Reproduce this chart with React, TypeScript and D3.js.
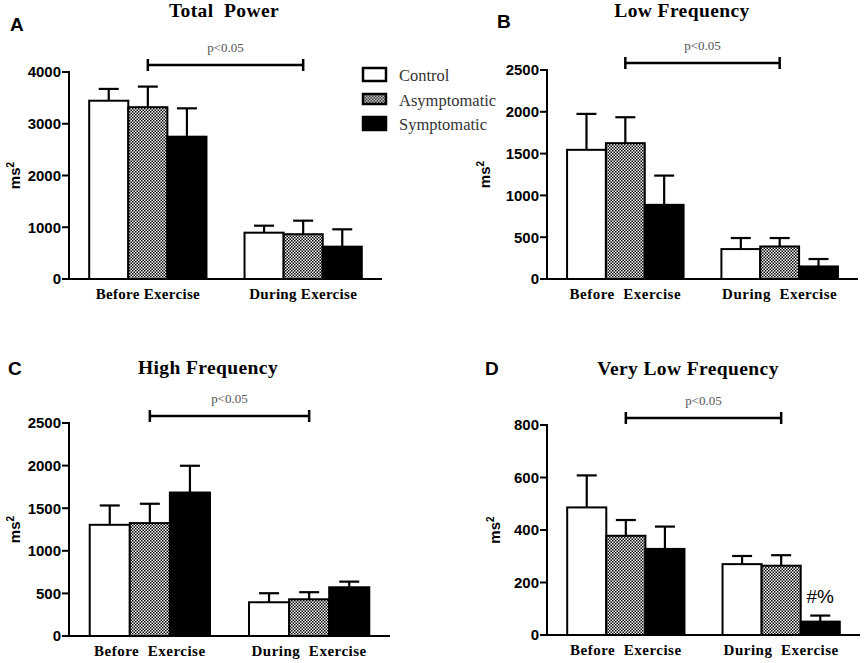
import React from 'react';
import * as d3 from 'd3';

// groups and phases
const groups = ['Control', 'Asymptomatic', 'Symptomatic'];
const phases = ['Before', 'During'];

// Total power (ms^2): mean and SEM per group
const tpBefore = [3445, 3320, 2750];
const tpBeforeErr = [228, 398, 548];
const tpDuring = [895, 865, 625];
const tpDuringErr = [135, 262, 335];

// Low frequency
const lfBefore = [1545, 1625, 887];
const lfBeforeErr = [430, 310, 350];
const lfDuring = [358, 389, 150];
const lfDuringErr = [132, 101, 89];

// High frequency
const hfBefore = [1305, 1325, 1684];
const hfBeforeErr = [227, 227, 314];
const hfDuring = [396, 431, 572];
const hfDuringErr = [106, 83, 66];

// Very low frequency
const vlfBefore = [486, 378, 328];
const vlfBeforeErr = [122, 60, 85];
const vlfDuring = [270, 264, 51];
const vlfDuringErr = [31, 40, 23];

const phaseLabelsA = ['Before Exercise', 'During Exercise'];
const phaseLabels = ['Before  Exercise', 'During  Exercise'];

const SANS = '"Liberation Sans", Arial, sans-serif';
const SERIF = '"Liberation Serif", "Times New Roman", serif';

interface PanelProps {
  letter: string;
  letterX: number;
  letterY: number;
  title: string;
  titleX: number;
  titleY: number;
  left: number;
  right: number;
  top: number;
  bottom: number;
  max: number;
  step: number;
  ylabelX: number;
  before: number[];
  beforeErr: number[];
  during: number[];
  duringErr: number[];
  labels: string[];
  labelSpacing?: number;
  note?: string;
}

const fills = ['#fff', 'url(#checker)', '#000'];

const Panel: React.FC<PanelProps> = (p) => {
  const y = d3.scaleLinear().domain([0, p.max]).range([p.bottom, p.top]);
  const x0 = d3.scaleBand<string>().domain(phases).range([p.left, p.right]).paddingInner(0.245).paddingOuter(0.13);
  const x1 = d3.scaleBand<string>().domain(groups).range([0, x0.bandwidth()]);
  const ticks = d3.range(0, p.max + 1, p.step);
  const means = [p.before, p.during];
  const errs = [p.beforeErr, p.duringErr];

  // bracket between asymptomatic bars
  const bx1 = (x0('Before') || 0) + (x1('Asymptomatic') || 0) + x1.bandwidth() / 2;
  const bx2 = (x0('During') || 0) + (x1('Asymptomatic') || 0) + x1.bandwidth() / 2;
  const by = p.top - 7;

  return (
    <g>
      <text x={p.letterX} y={p.letterY} fontFamily={SANS} fontWeight="bold" fontSize={19}>{p.letter}</text>
      <text x={p.titleX} y={p.titleY} textAnchor="middle" fontFamily={SERIF} fontWeight="bold" fontSize={19.5}
        letterSpacing={0.4} style={{ whiteSpace: 'pre' }}>{p.title}</text>

      {/* significance bracket */}
      <g stroke="#000" strokeWidth={2.5}>
        <line x1={bx1} x2={bx2} y1={by} y2={by} />
        <line x1={bx1} x2={bx1} y1={by - 6} y2={by + 6} />
        <line x1={bx2} x2={bx2} y1={by - 6} y2={by + 6} />
      </g>
      <text x={(bx1 + bx2) / 2} y={by - 13} textAnchor="middle" fontFamily={SERIF} fontSize={13} fill="#555">p&lt;0.05</text>

      {/* bars with error bars */}
      {phases.map((ph, pi) => groups.map((gr, gi) => {
        const bx = (x0(ph) || 0) + (x1(gr) || 0);
        const cx = bx + x1.bandwidth() / 2;
        const m = means[pi][gi];
        const e = errs[pi][gi];
        return (
          <g key={ph + gr}>
            <line x1={cx} x2={cx} y1={y(m)} y2={y(m + e)} stroke="#000" strokeWidth={2.2} />
            <line x1={cx - 10} x2={cx + 10} y1={y(m + e)} y2={y(m + e)} stroke="#000" strokeWidth={2.2} />
            <rect x={bx} y={y(m)} width={x1.bandwidth()} height={p.bottom - y(m)} fill={fills[gi]} stroke="#000" strokeWidth={2} />
          </g>
        );
      }))}

      {p.note && (() => {
        const cx = (x0('During') || 0) + (x1('Symptomatic') || 0) + x1.bandwidth() / 2;
        return (
          <text x={cx} y={y(p.during[2] + p.duringErr[2]) - 13} textAnchor="middle" fontFamily={SANS} fontSize={19}>{p.note}</text>
        );
      })()}

      {/* axes */}
      <line x1={p.left} x2={p.left} y1={p.top - 1} y2={p.bottom + 1} stroke="#000" strokeWidth={2} />
      <line x1={p.left - 1} x2={p.right} y1={p.bottom} y2={p.bottom} stroke="#000" strokeWidth={2} />
      {ticks.map((t) => (
        <g key={t}>
          <line x1={p.left - 7} x2={p.left} y1={y(t)} y2={y(t)} stroke="#000" strokeWidth={2} />
          <text x={p.left - 8} y={y(t)} dy="0.36em" textAnchor="end" fontFamily={SANS} fontWeight="bold" fontSize={15}>{t}</text>
        </g>
      ))}
      {phases.map((ph, i) => (
        <text key={ph} x={(x0(ph) || 0) + x0.bandwidth() / 2} y={p.bottom + 20} textAnchor="middle"
          fontFamily={SERIF} fontWeight="bold" fontSize={15} letterSpacing={p.labelSpacing || 0}
          style={{ whiteSpace: 'pre' }}>{p.labels[i]}</text>
      ))}
      <text transform={`translate(${p.ylabelX},${(p.top + p.bottom) / 2}) rotate(-90)`} textAnchor="middle"
        fontFamily={SANS} fontWeight="bold" fontSize={15}>
        ms<tspan dy={-6} fontSize={10}>2</tspan>
      </text>
    </g>
  );
};

const App: React.FC = () => {
  return (
    <svg width={865} height={663} style={{ position: 'absolute', left: 0, top: 0, background: '#fff' }}>
      <defs>
        <pattern id="checker" width={3} height={3} patternUnits="userSpaceOnUse">
          <rect width={3} height={3} fill="#fff" />
          <rect width={1.5} height={1.5} fill="#000" />
          <rect x={1.5} y={1.5} width={1.5} height={1.5} fill="#000" />
        </pattern>
      </defs>

      <Panel letter="A" letterX={10} letterY={31} title="Total  Power" titleX={224} titleY={17}
        left={69} right={382} top={72} bottom={279} max={4000} step={1000} ylabelX={20}
        before={tpBefore} beforeErr={tpBeforeErr} during={tpDuring} duringErr={tpDuringErr} labels={phaseLabelsA} labelSpacing={0.3} />
      <Panel letter="B" letterX={497} letterY={28} title="Low Frequency" titleX={682} titleY={17}
        left={547} right={858} top={70} bottom={279} max={2500} step={500} ylabelX={490}
        before={lfBefore} beforeErr={lfBeforeErr} during={lfDuring} duringErr={lfDuringErr} labels={phaseLabels} labelSpacing={0.5} />
      <Panel letter="C" letterX={8} letterY={375} title="High Frequency" titleX={208} titleY={374}
        left={69} right={390} top={423} bottom={636} max={2500} step={500} ylabelX={20}
        before={hfBefore} beforeErr={hfBeforeErr} during={hfDuring} duringErr={hfDuringErr} labels={phaseLabels} labelSpacing={0.5} />
      <Panel letter="D" letterX={485} letterY={375} title="Very Low Frequency" titleX={688} titleY={375}
        left={547} right={860} top={425} bottom={635} max={800} step={200} ylabelX={500}
        before={vlfBefore} beforeErr={vlfBeforeErr} during={vlfDuring} duringErr={vlfDuringErr} labels={phaseLabels} labelSpacing={0.5} note="#%" />

      {/* legend */}
      {groups.map((g, i) => (
        <g key={g} transform={`translate(363,${68 + i * 24.5})`}>
          <rect width={23} height={i === 1 ? 10 : 13} y={i === 1 ? 1.5 : 0} fill={fills[i]} stroke="#000" strokeWidth={2.5} />
          <text x={36} y={13} fontFamily={SERIF} fontSize={16.5} fill="#333">{g}</text>
        </g>
      ))}
    </svg>
  );
};

export default App;
